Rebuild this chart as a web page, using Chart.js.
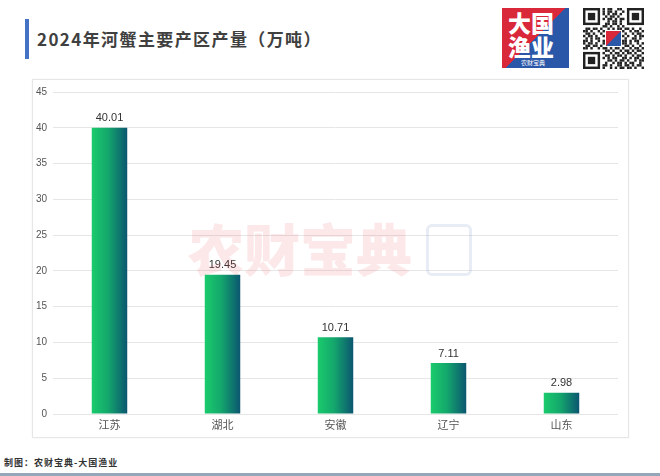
<!DOCTYPE html>
<html><head><meta charset="utf-8">
<script src="https://cdn.jsdelivr.net/npm/chart.js@4/dist/chart.umd.min.js"></script>
<style>
html,body{margin:0;padding:0;background:#fff;}
body{width:660px;height:476px;position:relative;overflow:hidden;font-family:"Noto Sans CJK SC","Liberation Sans",sans-serif;}
#bar{position:absolute;left:25px;top:19px;width:4px;height:40px;background:#4472c4;}
#title{position:absolute;left:37px;top:26px;font-size:17px;font-weight:bold;color:#404040;letter-spacing:1.4px;line-height:26px;white-space:nowrap;}
#panel{position:absolute;left:32px;top:79px;width:595px;height:357px;border:1px solid #e6e6e6;box-shadow:0 0 2px rgba(0,0,0,0.05);}
#wrap{position:absolute;left:0;top:0;width:595px;height:357px;}
#wm{position:absolute;left:188px;top:214px;font-size:56px;font-weight:900;color:rgba(232,70,85,0.13);white-space:nowrap;line-height:66px;}
#wm2{position:absolute;left:426px;top:224px;width:40px;height:46px;border:3px solid rgba(120,150,200,0.18);border-radius:6px;}
#footer{position:absolute;left:4px;top:456px;font-size:9px;font-weight:bold;color:#333;letter-spacing:1px;white-space:nowrap;}
#bline{position:absolute;left:0;top:473px;width:660px;height:3px;background:#94a6b8;}
#logo{position:absolute;left:502px;top:8px;width:67px;height:60px;background:linear-gradient(135deg,#d9283a 0%,#d9283a 50%,#2b57a8 50%,#2b57a8 100%);}
#logo .t{position:absolute;left:6px;top:2px;color:#fff;font-weight:900;font-size:23px;line-height:24px;}
#logo .s{position:absolute;left:17px;top:50px;color:#fff;font-size:6px;background:#2b57a8;padding:0 2px;}
#qr{position:absolute;left:583px;top:8px;}
</style></head>
<body>
<div id="bar"></div>
<div id="title">2024年河蟹主要产区产量（万吨）</div>
<div id="logo"><div class="t">大国<br>渔业</div><div class="s">农财宝典</div></div>
<canvas id="qr" width="61" height="61"></canvas>
<div id="panel"><div id="wrap"><canvas id="c"></canvas></div></div>
<div id="wm">农财宝典</div>
<div id="wm2"></div>
<div id="footer">制图：农财宝典-大国渔业</div>
<div id="bline"></div>
<script>
const categories = ["江苏","湖北","安徽","辽宁","山东"];
const values = [40.01,19.45,10.71,7.11,2.98];
const valueLabels = ["40.01","19.45","10.71","7.11","2.98"];

// decorative QR-like mark
(function(){
  const q=document.getElementById('qr').getContext('2d');
  q.fillStyle='#fff';q.fillRect(0,0,61,61);
  q.fillStyle='#222';
  const s=61/25;
  function finder(x,y){q.fillRect(x*s,y*s,7*s,7*s);q.fillStyle='#fff';q.fillRect((x+1)*s,(y+1)*s,5*s,5*s);q.fillStyle='#222';q.fillRect((x+2)*s,(y+2)*s,3*s,3*s);}
  finder(0,0);finder(18,0);finder(0,18);
  const bits="1011001101011010011010110100101101001011010110010110100110110101101001010110110100101011011010010110100101101011010010110101101001011010110100101101011010010110101101001011010";
  let k=0;
  for(let y=0;y<25;y++)for(let x=0;x<25;x++){
    if((x<8&&y<8)||(x>16&&y<8)||(x<8&&y>16))continue;
    if(bits[(k++)%bits.length]==='1')q.fillRect(x*s,y*s,s,s);
  }
  q.fillStyle='#fff';q.fillRect(22,22,17,17);
  q.fillStyle='#d9283a';q.fillRect(23,23,15,15);
  q.fillStyle='#2b57a8';q.beginPath();q.moveTo(38,23);q.lineTo(38,38);q.lineTo(23,38);q.fill();
})();

const gradPlugin={
  id:'grad',
  beforeDatasetsDraw(chart){
    const ctx=chart.ctx;
    chart.getDatasetMeta(0).data.forEach(el=>{
      const l=el.x-el.width/2, r=el.x+el.width/2;
      const g=ctx.createLinearGradient(l,0,r,0);
      g.addColorStop(0,'#1acb6c');
      g.addColorStop(0.45,'#14a86c');
      g.addColorStop(1,'#0b5670');
      el.options=Object.assign({},el.options,{backgroundColor:g});
    });
  },
  afterDatasetsDraw(chart){
    const ctx=chart.ctx;
    ctx.save();
    ctx.font='11px "Liberation Sans", Arial, sans-serif';
    ctx.fillStyle='#333';
    ctx.textAlign='center';ctx.textBaseline='bottom';
    chart.getDatasetMeta(0).data.forEach((el,i)=>{
      ctx.fillText(valueLabels[i],el.x,el.y-4);
    });
    ctx.restore();
  }
};

new Chart(document.getElementById('c'),{
  type:'bar',
  data:{labels:categories,datasets:[{data:values,backgroundColor:'#14a86c',borderWidth:0,barPercentage:0.314,categoryPercentage:1}]},
  options:{
    responsive:true,maintainAspectRatio:false,animation:false,
    layout:{padding:{top:8,right:10,left:0,bottom:0}},
    plugins:{legend:{display:false},tooltip:{enabled:false}},
    scales:{
      x:{grid:{display:false,drawTicks:false},border:{display:false},
         ticks:{color:'#555',font:{size:11,family:'"Noto Sans CJK SC", sans-serif'},padding:4},
         afterFit(s){s.height=23;}},
      y:{min:0,max:45,grid:{color:'#e6e6e6',drawTicks:false},border:{display:false},
         ticks:{stepSize:5,color:'#555',font:{size:10,family:'"Liberation Sans", Arial, sans-serif'},padding:6},
         afterFit(s){s.width=20;}}
    }
  },
  plugins:[gradPlugin]
});
</script>
</body></html>
